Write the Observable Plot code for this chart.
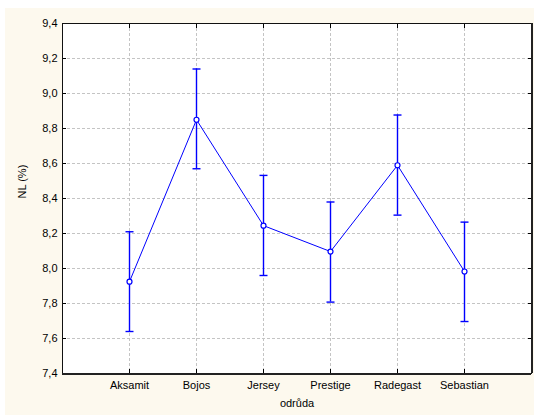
<!DOCTYPE html>
<html>
<head>
<meta charset="utf-8">
<script src="https://cdn.jsdelivr.net/npm/d3@7"></script>
<script src="https://cdn.jsdelivr.net/npm/@observablehq/plot@0.6"></script>
<style>
  html, body { margin: 0; padding: 0; background: #ffffff; }
  #wrap { position: relative; width: 539px; height: 417px; }
  #panel { position: absolute; left: 5px; top: 8px; width: 529px; height: 407px; background: #fdf9ee; }
  #chart { position: absolute; left: 0; top: 0; }
  #chart svg { background: transparent; }
</style>
</head>
<body>
<div id="wrap"><div id="panel"></div><div id="chart"></div></div>
<script>
// Varieties and nitrogen content (mean with interval bounds)
const varieties = ["Aksamit", "Bojos", "Jersey", "Prestige", "Radegast", "Sebastian"];
const means = [7.925, 8.850, 8.245, 8.097, 8.590, 7.983];
const lower = [7.640, 8.570, 7.960, 7.808, 8.305, 7.697];
const upper = [8.210, 9.140, 8.532, 8.380, 8.877, 8.265];
const yTicks = [7.4, 7.6, 7.8, 8.0, 8.2, 8.4, 8.6, 8.8, 9.0, 9.2, 9.4];
const xTitle = "odrůda";
const yTitle = "NL (%)";

const rows = varieties.map((v, i) => ({variety: v, mean: means[i], lo: lower[i], hi: upper[i]}));

const blue = "#0000ff";
const grid = {stroke: "#c4c4c4", strokeOpacity: 1, strokeDasharray: "3,2"};
const fmt = d => d3.format(".1f")(d).replace(".", ",");

// horizontal cap drawn at the end of each interval
const cap = {draw(context) { context.moveTo(-4, 0); context.lineTo(4, 0); }};

const chart = Plot.plot({
  width: 539,
  height: 417,
  marginLeft: 62,
  marginRight: 8,
  marginTop: 23,
  marginBottom: 44,
  style: {fontFamily: "'Liberation Sans', Arial, sans-serif", fontSize: "11px", color: "#000", background: "transparent"},
  x: {type: "point", domain: varieties, padding: 1},
  y: {domain: [7.4, 9.4]},
  marks: [
    Plot.frame({fill: "white", stroke: null}),
    Plot.gridX(varieties, grid),
    Plot.gridY(yTicks.slice(1, -1), grid),
    Plot.axisY(yTicks, {anchor: "left", tickSize: -4, tickPadding: 9, tickFormat: fmt, label: null, fontSize: 11}),
    Plot.axisY(yTicks, {anchor: "right", tickSize: -4, text: null, label: null}),
    Plot.axisX(varieties, {anchor: "bottom", tickSize: -4, tickPadding: 12, label: null, fontSize: 11}),
    Plot.axisX(varieties, {anchor: "top", tickSize: -4, text: null, label: null}),
    Plot.frame({stroke: "#111", strokeWidth: 1}),
    Plot.ruleY([7.4], {stroke: "#222", strokeWidth: 2, dy: 0.5}),
    Plot.ruleX([varieties[varieties.length - 1]], {stroke: "#222", strokeWidth: 2, dx: 67.5, y1: 7.4, y2: 9.4}),
    Plot.ruleX(rows, {x: "variety", y1: "lo", y2: "hi", stroke: blue, strokeWidth: 1.4}),
    Plot.dot(rows, {x: "variety", y: "lo", symbol: cap, fill: "none", stroke: blue, strokeWidth: 1.4}),
    Plot.dot(rows, {x: "variety", y: "hi", symbol: cap, fill: "none", stroke: blue, strokeWidth: 1.4}),
    Plot.line(rows, {x: "variety", y: "mean", stroke: blue, strokeWidth: 1}),
    Plot.dot(rows, {x: "variety", y: "mean", r: 2.5, fill: "white", stroke: blue, strokeWidth: 1.2}),
    Plot.text([xTitle], {frameAnchor: "bottom", dy: 33, fontSize: 11, fill: "#000"}),
    Plot.text([yTitle], {frameAnchor: "left", dx: -40, rotate: -90, fontSize: 11, fill: "#000"})
  ]
});
document.getElementById("chart").appendChild(chart);
</script>
</body>
</html>
